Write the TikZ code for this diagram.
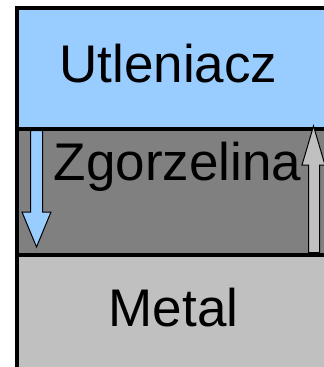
\documentclass[tikz,border=0pt]{standalone}
\usepackage{fontspec}
\setmainfont{Liberation Sans}
\definecolor{oxblue}{HTML}{99CCFF}
\definecolor{scalegrey}{HTML}{808080}
\definecolor{metalgrey}{HTML}{C0C0C0}
\tikzset{
  layer/.style={draw=black, line width=4pt},
  flowarrow/.style={draw=black, line width=1pt, line join=miter},
  label/.style={anchor=base, inner sep=0pt, font=\fontsize{53}{60}\selectfont}
}
\begin{document}
\begin{tikzpicture}[x=1pt, y=-1pt]
  \useasboundingbox (0,0) rectangle (324,367);
  \clip (0,0) rectangle (324,367);
  % the three layers
  \path[layer, fill=oxblue]    (17,8)     rectangle (345,128.5);
  \path[layer, fill=scalegrey] (17,128.5) rectangle (345,254.5);
  \path[layer, fill=metalgrey] (17,254.5) rectangle (345,385);
  % inward flow of the oxidant through the scale
  \path[flowarrow, fill=oxblue]
    (30.5,130.5) -- (42.5,130.5) -- (42.5,212) -- (51,212) -- (36.5,247)
    -- (22,212) -- (30.5,212) -- cycle;
  % outward flow of the metal through the scale
  \path[flowarrow, fill=metalgrey]
    (308.5,252.5) -- (308.5,165) -- (302,165) -- (313.5,126)
    -- (325,165) -- (319.5,165) -- (319.5,252.5) -- cycle;
  % layer names
  \node[label] (ox)    at (168.5,82)  {Utleniacz};
  \node[label] (scale) at (177.5,180) {Zgorzelina};
  \node[label] (metal) at (173.5,326) {Metal};
\end{tikzpicture}
\end{document}
